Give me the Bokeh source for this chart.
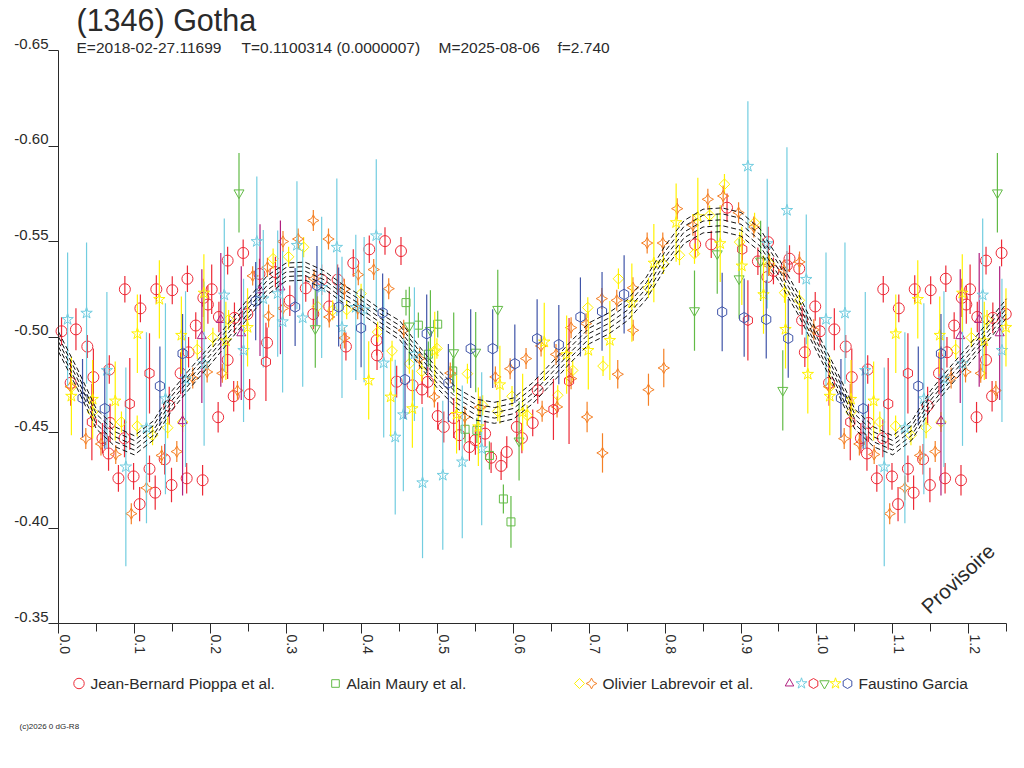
import math
from bokeh.embed import file_html
from bokeh.resources import INLINE
from bokeh.plotting import figure
from bokeh.models import (ColumnDataSource, Range1d, LinearAxis, FixedTicker, Label)

X_TICKS = [0.0, 0.1, 0.2, 0.3, 0.4, 0.5, 0.6, 0.7, 0.8, 0.9, 1.0, 1.1, 1.2]
X_MINOR = [0.05, 0.15, 0.25, 0.35, 0.45, 0.55, 0.65, 0.75, 0.85, 0.95, 1.05, 1.15, 1.25]
Y_TICKS = [-0.65, -0.60, -0.55, -0.50, -0.45, -0.40, -0.35]
TITLE = "(1346) Gotha"
SUBTITLE_PARTS = [("E=2018-02-27.11699", 76), ("T=0.1100314 (0.0000007)", 241), ("M=2025-08-06", 438), ("f=2.740", 557)]
WRAP_LIMIT = 0.25

red_phase = [.004,.023,.038,.016,.046,.067,.068,.058,.066,.087,.079,.099,.12,.0875,.108,.129,.15,.17,.181,.202,.191,.197,.2115,.223,.2435,.232,.249,.265,.14,.146,.1715,.161,.223,.2105,.231,.252,.275,.149,.169,.19,.1275,.107,.305,.326,.336,.357,.347,.368,.379,.286,.3887,.4098,.4305,.4516,.4195,.42,.4459,.4669,.4793,.4869,.5,.508,.5211,.5286,.5418,.5497,.5625,.5704,.5836,.5911,.6043,.611,.6253,.6319,.8395,.8607,.8815,.9222,.9356,.9346,.9427,.9639,.9604,.9767,.9978,.9805,.9841]
red_mag = [-.503,-.504,-.495,-.476,-.479,-.483,-.455,-.447,-.439,-.447,-.426,-.427,-.431,-.525,-.515,-.525,-.5245,-.5305,-.506,-.525,-.5205,-.517,-.5105,-.54,-.544,-.51,-.512,-.533,-.436,-.464,-.492,-.481,-.488,-.458,-.469,-.47,-.497,-.4225,-.426,-.425,-.4185,-.4125,-.519,-.5255,-.512,-.516,-.53,-.53,-.495,-.534,-.5387,-.5459,-.5502,-.545,-.4983,-.4904,-.4766,-.4747,-.4725,-.4765,-.4586,-.4529,-.4576,-.4486,-.4424,-.446,-.4494,-.4368,-.4325,-.4398,-.4529,-.4471,-.455,-.4721,-.5485,-.5485,-.5677,-.5396,-.5497,-.5314,-.5346,-.541,-.5375,-.5358,-.516,-.5087,-.492]
red_err = [.0073,.011,.006,.012,.015,.0075,.01,.008,.009,.01,.007,.007,.007,.007,.0073,.0073,.0073,.007,.007,.013,.01,.01,.008,.0073,.007,.008,.008,.008,.008,.01,.008,.011,.01,.008,.008,.008,.008,.009,.008,.008,.009,.009,.008,.007,.008,.008,.008,.008,.0073,.008,.0072,.0072,.0072,.0073,.008,.0077,.0083,.008,.0076,.008,.0072,.0081,.0105,.0079,.0072,.0077,.007,.008,.0074,.0082,.0079,.0079,.007,.007,.007,.0071,.0074,.0072,.008,.008,.007,.007,.0075,.0075,.0075,.0075,.0077]

square_phase = [.4582,.4745,.5,.4877,.5198,.5361,.5517,.5682,.5866,.5966]
square_mag = [-.518,-.5062,-.5067,-.491,-.4822,-.4517,-.4511,-.438,-.4152,-.4032]
square_err = [.0068,.0066,.007,.0066,.0067,.0071,.0066,.0074,.0076,.0135]

diamond_phase = [.017,.045,.083,.1038,.124,.144,.1636,.183,.2036,.2243,.283,.3034,.3232,.3415,.3615,.38,.399,.4208,.4398,.4626,.479,.499,.5392,.5593,.5792,.598,.6179,.6583,.678,.6979,.718,.7383,.7779,.7977,.8188,.8386,.8585,.8781,.8981,.9178,.9376,.9573,.977]
diamond_mag = [-.4738,-.4607,-.4555,-.4534,-.4485,-.4525,-.4555,-.4935,-.4997,-.509,-.541,-.542,-.547,-.516,-.514,-.5143,-.5227,-.5026,-.4927,-.486,-.482,-.494,-.4808,-.4642,-.4611,-.469,-.459,-.4695,-.4825,-.5154,-.4848,-.5305,-.5257,-.5382,-.5428,-.5436,-.5637,-.58,-.5497,-.5599,-.5384,-.5232,-.5192]
diamond_err = [.005,.005,.0055,.0055,.0052,.0055,.0052,.005,.0051,.0052,.0053,.0052,.0053,.0053,.0052,.005,.0052,.0054,.0054,.0053,.0052,.0054,.0052,.0053,.0052,.0053,.0054,.0052,.0053,.0054,.0052,.0054,.0053,.0052,.0052,.0053,.0052,.0054,.0052,.0052,.0053,.0053,.0052]

orange_phase = [.016,.036,.056,.0755,.156,.136,.116,.096,.177,.196,.216,.236,.277,.256,.2755,.296,.296,.316,.336,.337,.356,.357,.377,.377,.3953,.4156,.4354,.3945,.4552,.476,.4956,.5166,.5358,.5558,.5761,.5955,.6165,.6363,.656,.6759,.6759,.6956,.697,.7164,.7173,.7361,.7374,.7574,.7577,.6377,.6574,.7762,.7779,.7968,.7981,.8158,.8365,.8562,.8764,.8967,.9168,.9365,.9565,.9771,.9959]
orange_mag = [-.474,-.4468,-.444,-.4385,-.44,-.438,-.421,-.4075,-.4785,-.4817,-.481,-.472,-.511,-.532,-.5365,-.55,-.515,-.5513,-.561,-.5305,-.5513,-.5105,-.525,-.4995,-.5326,-.5353,-.5253,-.5148,-.5035,-.4887,-.4686,-.4811,-.4581,-.4633,-.4791,-.4834,-.4887,-.4953,-.4909,-.5049,-.4782,-.507,-.4581,-.5201,-.4393,-.5192,-.4805,-.5258,-.5035,-.4611,-.4634,-.5492,-.4724,-.5492,-.4838,-.5672,-.5585,-.5721,-.5738,-.5651,-.5576,-.5375,-.5349,-.5393,-.5038]
orange_err = [.006,.0055,.006,.005,.0055,.005,.0065,.0055,.0055,.0055,.005,.005,.006,.005,.005,.0055,.0055,.0055,.0055,.005,.0055,.0055,.0055,.0055,.0055,.0055,.0055,.0055,.0055,.0055,.0055,.0055,.0055,.0055,.0055,.0055,.0055,.0055,.0055,.0055,.0055,.0055,.008,.0055,.0103,.0055,.0075,.0055,.0055,.0055,.0055,.0055,.0084,.0055,.0101,.0055,.0055,.0055,.0055,.0055,.0055,.0055,.0055,.0055,.0055]

magenta_phase = [.1636,.189,.214,.241,.2657,.2926]
magenta_mag = [-.456,-.5005,-.509,-.502,-.5245,-.526]
magenta_err = [.039,.035,.035,.035,.0345,.035]

cyan_phase = [.012,.037,.0638,.0888,.116,.141,.1675,.192,.2186,.244,.2615,.27,.289,.2955,.3144,.322,.347,.367,.3738,.392,.403,.419,.4288,.444,.4547,.4693,.48,.5067,.5324,.558,.909,.9345,.9605,.986]
cyan_mag = [-.5092,-.5125,-.4825,-.432,-.4525,-.4677,-.478,-.486,-.522,-.493,-.55,-.52,-.5227,-.508,-.548,-.51,-.526,-.547,-.505,-.5155,-.5143,-.553,-.4864,-.4476,-.4593,-.491,-.4237,-.4276,-.4346,-.4415,-.5894,-.5489,-.5663,-.5302]
cyan_err = [.035,.037,.041,.052,.05,.05,.046,.043,.04,.0375,.034,.036,.033,.037,.0335,.036,.037,.036,.037,.038,.038,.04,.039,.0405,.04,.035,.0395,.039,.04,.04,.034,.034,.033,.034]

pent_phase = [.044,.094,.12,.2735,.6526,.6732,.909,.9016]
pent_mag = [-.4555,-.465,-.481,-.487,-.4621,-.477,-.5087,-.5459]
pent_err = [.02,.024,.021,.0205,.016,.033,.021,.0072]

tridown_phase = [.238,.3386,.4626,.4904,.5211,.5501,.5792,.6073,.8386,.8686,.8974,.9258,.955]
tridown_mag = [-.5755,-.5044,-.5058,-.5035,-.4918,-.4921,-.5145,-.4456,-.5138,-.5436,-.5305,-.5398,-.4721]
tridown_err = [.0208,.0205,.0205,.021,.021,.021,.0207,.0207,.021,.021,.021,.021,.021]

ystar_phase = [.017,.045,.0748,.104,.133,.162,.1917,.2207,.2493,.409,.438,.4666,.4961,.5249,.5536,.582,.612,.6405,.67,.6986,.727,.756,.785,.8144,.843,.8725,.901,.9296,.9586,.988]
ystar_mag = [-.469,-.4674,-.4665,-.5017,-.5197,-.5009,-.523,-.498,-.505,-.4773,-.4686,-.4625,-.4927,-.4595,-.453,-.475,-.4607,-.4974,-.4908,-.493,-.4982,-.518,-.5387,-.5599,-.563,-.5489,-.5372,-.5222,-.504,-.4805]
ystar_err = [.0205,.0205,.0207,.0206,.0205,.0203,.0203,.0205,.0205,.0205,.0205,.0205,.0205,.0205,.0205,.0204,.0201,.0205,.0205,.0205,.0207,.0205,.0205,.0205,.0204,.0201,.0205,.0205,.0205,.0205]

blue_phase = [.0317,.061,.1337,.1636,.26,.312,.3408,.3694,.399,.4274,.4569,.4855,.5141,.5435,.5725,.6017,.6311,.6597,.6882,.7167,.7458,.8751,.9041,.9332,.9622]
blue_mag = [-.468,-.4625,-.4743,-.4913,-.5188,-.5157,-.527,-.5157,-.5047,-.5127,-.4777,-.5017,-.4759,-.4939,-.4939,-.486,-.4991,-.496,-.5105,-.5134,-.5223,-.5131,-.5101,-.5092,-.4993]
blue_err = [.0205,.021,.0207,.0207,.0205,.0204,.0207,.0207,.0205,.0205,.0205,.0205,.0205,.0206,.0206,.0205,.0206,.0207,.0207,.0206,.0205,.0205,.0205,.0205,.0206]

curve_phase = [0,.025,.05,.075,.1,.125,.15,.175,.2,.225,.25,.275,.3,.325,.35,.375,.4,.425,.45,.475,.5,.525,.55,.575,.6,.625,.65,.675,.7,.725,.75,.775,.8,.825,.85,.875,.9,.925,.95,.975,1.0]
curve_mag = [-.4975,-.478,-.457,-.4477,-.4433,-.451,-.467,-.479,-.4905,-.5026,-.515,-.527,-.534,-.5345,-.53,-.5227,-.5167,-.5097,-.5035,-.4905,-.478,-.468,-.462,-.4603,-.4626,-.4705,-.481,-.492,-.502,-.507,-.514,-.5255,-.5419,-.555,-.5607,-.5614,-.559,-.5506,-.535,-.5175,-.4975]
curve_halfwidth = [.0052,.0052,.0052,.0052,.005,.005,.005,.005,.005,.005,.005,.005,.0047,.0047,.0047,.0047,.0047,.0047,.005,.005,.005,.0053,.0055,.0055,.0055,.0055,.0055,.0055,.0055,.0055,.0055,.0058,.006,.006,.0062,.0062,.0062,.006,.0058,.0055,.0052]
curve_band = [-1, -.5, 0, .5, 1]

SERIES = [
    ("red", red_phase, red_mag, red_err, "circle", "#ed2a37", 11, 0),
    ("square", square_phase, square_mag, square_err, "square", "#62bb46", 8, 0),
    ("diamond", diamond_phase, diamond_mag, diamond_err, "square", "#fff200", 7.5, math.pi / 4),
    ("orange", orange_phase, orange_mag, orange_err, "square_pin", "#f58025", 8, math.pi / 4),
    ("magenta", magenta_phase, magenta_mag, magenta_err, "triangle", "#b01f7f", 9, 0),
    ("cyan", cyan_phase, cyan_mag, cyan_err, "star", "#72cde0", 12, 0),
    ("pent", pent_phase, pent_mag, pent_err, "hex", "#ed2a37", 10.5, math.pi / 6),
    ("tridown", tridown_phase, tridown_mag, tridown_err, "inverted_triangle", "#62bb46", 10, 0),
    ("ystar", ystar_phase, ystar_mag, ystar_err, "star", "#fff200", 12, 0),
    ("blue", blue_phase, blue_mag, blue_err, "hex", "#3f54a8", 10.5, math.pi / 6),
]
STYLE = {s[0]: s[4:] for s in SERIES}

LEGEND = [
    ("Jean-Bernard Pioppa et al.", 90, [("red", 78.5)]),
    ("Alain Maury et al.", 346, [("square", 335)]),
    ("Olivier Labrevoir et al.", 602, [("diamond", 579), ("orange", 591)]),
    ("Faustino Garcia", 858, [("magenta", 789), ("cyan", 801), ("pent", 813), ("tridown", 824), ("ystar", 835), ("blue", 847)]),
]
LEGEND_Y = 683

W, H = 1016, 760
LEFT, TOP, FRAME_H = 58, 50, 573
PX = 0.1 / 75.84
PY = 0.05 / 95.5
p = figure(width=W, height=H, output_backend="svg", toolbar_location=None,
           x_range=Range1d(-LEFT * PX, (W - LEFT) * PX),
           y_range=Range1d(-0.35 + (H - TOP - FRAME_H) * PY, -0.65 - TOP * PY),
           x_axis_type=None, y_axis_type=None,
           min_border=0, outline_line_color=None, background_fill_color="white", border_fill_color="white")
p.grid.visible = False

INK = "#2a2a2a"
xaxis = LinearAxis(ticker=FixedTicker(ticks=X_TICKS, minor_ticks=X_MINOR),
                   major_label_overrides={t: "" for t in X_TICKS}, fixed_location=-0.35, bounds=(0, 1.25),
                   axis_line_color=INK, major_tick_line_color=INK, minor_tick_line_color=INK,
                   major_tick_in=0, major_tick_out=10, minor_tick_in=0, minor_tick_out=8)
yaxis = LinearAxis(ticker=FixedTicker(ticks=Y_TICKS),
                   major_label_overrides={t: "" for t in Y_TICKS}, fixed_location=0, bounds=(-0.65, -0.35),
                   axis_line_color=INK, major_tick_line_color=INK,
                   major_tick_in=0, major_tick_out=10, minor_tick_line_color=None)
p.add_layout(xaxis, "below")
p.add_layout(yaxis, "left")

for name, ph, mg, er, marker, color, size, angle in SERIES:
    xs = list(ph) + [q + 1 for q in ph if q <= WRAP_LIMIT]
    ys = list(mg) + [m for q, m in zip(ph, mg) if q <= WRAP_LIMIT]
    es = list(er) + [e for q, e in zip(ph, er) if q <= WRAP_LIMIT]
    src = ColumnDataSource(dict(x=xs, y=ys, y0=[a - b for a, b in zip(ys, es)],
                                y1=[a + b for a, b in zip(ys, es)]))
    p.segment("x", "y0", "x", "y1", source=src, line_color=color, line_width=1.2)
    p.scatter("x", "y", source=src, marker=marker, size=size, angle=angle,
              fill_color=None, line_color=color, line_width=1)

wrap_idx = [i for i, q in enumerate(curve_phase) if 0 < q <= WRAP_LIMIT]
cx = list(curve_phase) + [curve_phase[i] + 1 for i in wrap_idx]
cy = list(curve_mag) + [curve_mag[i] for i in wrap_idx]
cw = list(curve_halfwidth) + [curve_halfwidth[i] for i in wrap_idx]
for k in curve_band:
    p.line(cx, [m + k * w for m, w in zip(cy, cw)], line_color="#111111", line_width=1, line_dash="5 3")

FONT = "Liberation Sans"
for t in Y_TICKS:
    p.add_layout(Label(x=0, y=t, x_units="data", y_units="data", x_offset=-10, y_offset=2,
                       text=f"{t:.2f}", text_align="right", text_baseline="bottom",
                       text_font=FONT, text_font_size="15px", text_color=INK))
for t in X_TICKS:
    p.add_layout(Label(x=t, y=-0.35, x_units="data", y_units="data", x_offset=1, y_offset=-11,
                       text=f"{t:.1f}", angle=-math.pi / 2, text_align="left", text_baseline="bottom",
                       text_font=FONT, text_font_size="14px", text_color=INK))

def page_label(text, x, y, size, angle=0):
    p.add_layout(Label(x=x, y=H - y, x_units="screen", y_units="screen", text=text, angle=angle,
                       text_align="left", text_baseline="alphabetic",
                       text_font=FONT, text_font_size=size, text_color=INK))

page_label(TITLE, 76, 19, "30.5px")
for part, px in SUBTITLE_PARTS:
    page_label(part, px, 47, "15.5px")
page_label("Provisoire", 924, 609, "20.5px", math.radians(43))
page_label("(c)2026 0 dG-R8", 19, 726, "8px")

for text, tx, swatches in LEGEND:
    page_label(text, tx, LEGEND_Y, "15.5px")
    for key, sx in swatches:
        marker, color, size, angle = STYLE[key]
        p.scatter([(sx - LEFT) * PX], [-0.35 + (LEGEND_Y - (TOP + FRAME_H)) * PY], marker=marker, size=size * 0.95,
                  angle=angle, fill_color=None, line_color=color, line_width=1)

open("out.html", "w").write(file_html(p, INLINE))
